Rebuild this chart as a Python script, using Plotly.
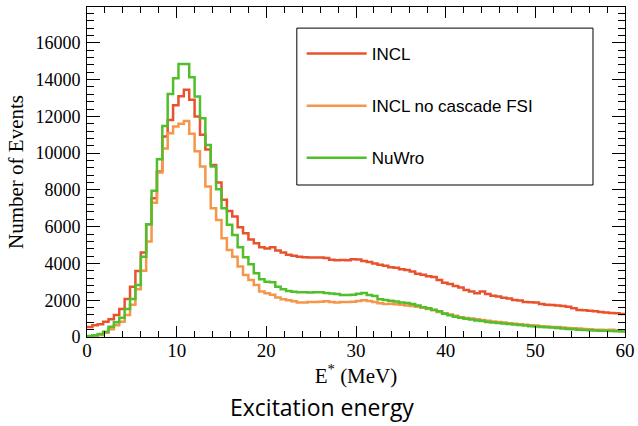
import plotly.graph_objects as go

# Histogram: 100 bins from 0 to 60 MeV (bin width 0.6 MeV)
bin_width = 0.6
n_bins = 100
edges = [round(i * bin_width, 4) for i in range(n_bins + 1)]

incl = [550, 640, 700, 830, 960, 1200, 1520, 2070, 2740, 3590,
        4590, 6130, 7550, 9000, 10900, 11800, 12600, 13100, 13450, 12900,
        12000, 11000, 10200, 9350, 8400, 7460, 6850, 6550, 5970, 5640,
        5310, 5100, 4880, 4820, 4880, 4700, 4600, 4480, 4420, 4370,
        4340, 4330, 4330, 4320, 4300, 4200, 4180, 4190, 4180, 4230,
        4210, 4130, 4080, 4000, 3930, 3880, 3790, 3760, 3680, 3640,
        3560, 3440, 3380, 3300, 3260, 3100, 2950, 2880, 2780, 2690,
        2560, 2470, 2380, 2470, 2340, 2250, 2200, 2140, 2100, 2010,
        1980, 1900, 1890, 1870, 1800, 1760, 1740, 1710, 1690, 1650,
        1560, 1470, 1450, 1430, 1400, 1360, 1330, 1310, 1290, 1250]

incl_nofsi = [30, 60, 110, 230, 420, 640, 830, 1200, 1750, 2600,
              3600, 5200, 7300, 8950, 10250, 11080, 11450, 11600, 11750, 11050,
              10100, 9270, 8180, 7000, 6370, 5370, 4730, 4370, 3830, 3370,
              3100, 2830, 2470, 2380, 2300, 2150, 2050, 2000, 1950, 1880,
              1880, 1900, 1900, 1920, 1940, 1900, 1880, 1900, 1910, 1920,
              1960, 2000, 1960, 1900, 1830, 1800, 1810, 1780, 1750, 1720,
              1690, 1640, 1590, 1520, 1450, 1360, 1290, 1230, 1150, 1080,
              1040, 1000, 960, 920, 880, 840, 810, 790, 750, 720,
              690, 660, 640, 620, 590, 570, 550, 540, 520, 490,
              480, 460, 440, 420, 400, 400, 380, 390, 370, 360]

nuwro = [60, 100, 160, 290, 560, 800, 1050, 1520, 2070, 2830,
         4370, 6130, 7950, 9670, 11480, 13220, 14080, 14850, 14850, 14130,
         13080, 11900, 10450, 9270, 8040, 7000, 6100, 5550, 4880, 4340,
         3960, 3470, 3140, 3010, 2980, 2740, 2600, 2500, 2460, 2430,
         2430, 2420, 2440, 2430, 2400, 2370, 2340, 2290, 2280, 2300,
         2350, 2400, 2290, 2230, 2060, 2010, 1970, 1930, 1880, 1850,
         1800, 1720, 1620, 1560, 1480, 1400, 1260, 1180, 1100, 1050,
         990, 950, 900, 870, 820, 790, 760, 740, 710, 680,
         650, 620, 590, 570, 550, 530, 510, 490, 460, 440,
         420, 400, 380, 370, 350, 340, 340, 330, 310, 300]

series = [("INCL", incl, "#e8522c"),
          ("INCL no cascade FSI", incl_nofsi, "#f5964a"),
          ("NuWro", nuwro, "#50bf2c")]

fig = go.Figure()
for i, (name, vals, col) in enumerate(series):
    fig.add_trace(go.Scatter(
        x=edges, y=list(vals) + [vals[-1]], mode="lines", name=name,
        line=dict(color=col, width=2.5, shape="hv"),
        legendgroup=f"g{i}"))

serif = "Liberation Serif"
axis_common = dict(showline=True, linecolor="black", linewidth=1, mirror="allticks",
                   ticks="inside", tickcolor="black", showgrid=False, zeroline=False,
                   automargin=False)

fig.update_xaxes(range=[0, 60], dtick=10, tick0=0, ticklen=11, tickwidth=1,
                 tickfont=dict(family=serif, size=19, color="black"),
                 ticklabelstandoff=-4,
                 minor=dict(dtick=2, ticklen=6, ticks="inside", tickcolor="black", showgrid=False),
                 title=dict(text="E<sup>*</sup> (MeV)", font=dict(family=serif, size=21, color="black"),
                            standoff=4),
                 **axis_common)
fig.update_yaxes(range=[0, 17950], dtick=2000, tick0=0, ticklen=13, tickwidth=1,
                 tickfont=dict(family=serif, size=18, color="black"),
                 tickformat="d", ticklabelstandoff=2,
                 minor=dict(dtick=400, ticklen=7, ticks="inside", tickcolor="black", showgrid=False),
                 title=dict(text="Number of Events", font=dict(family=serif, size=21, color="black"),
                            standoff=6),
                 **axis_common)

# legend frame
fig.add_shape(type="rect", xref="paper", yref="paper",
              x0=0.390, x1=0.9405, y0=0.4606, y1=0.936,
              line=dict(color="black", width=1), fillcolor="white", layer="below")

fig.add_annotation(text="Excitation energy", xref="paper", yref="paper",
                   x=0.437, y=-0.212, xanchor="center", yanchor="middle", showarrow=False,
                   font=dict(family="Open Sans", size=23, color="black"))

fig.update_layout(
    width=638, height=426,
    margin=dict(l=87, r=13, t=7, b=89, autoexpand=False),
    paper_bgcolor="white", plot_bgcolor="white",
    showlegend=True,
    legend=dict(x=0.399, y=0.912, xanchor="left", yanchor="top",
                bgcolor="rgba(0,0,0,0)", borderwidth=0,
                tracegroupgap=27, itemwidth=60,
                font=dict(family="Liberation Sans", size=17, color="black")),
)

fig.write_html("out.html", config={"displayModeBar": False},
               post_script="document.body.style.margin='0';")
